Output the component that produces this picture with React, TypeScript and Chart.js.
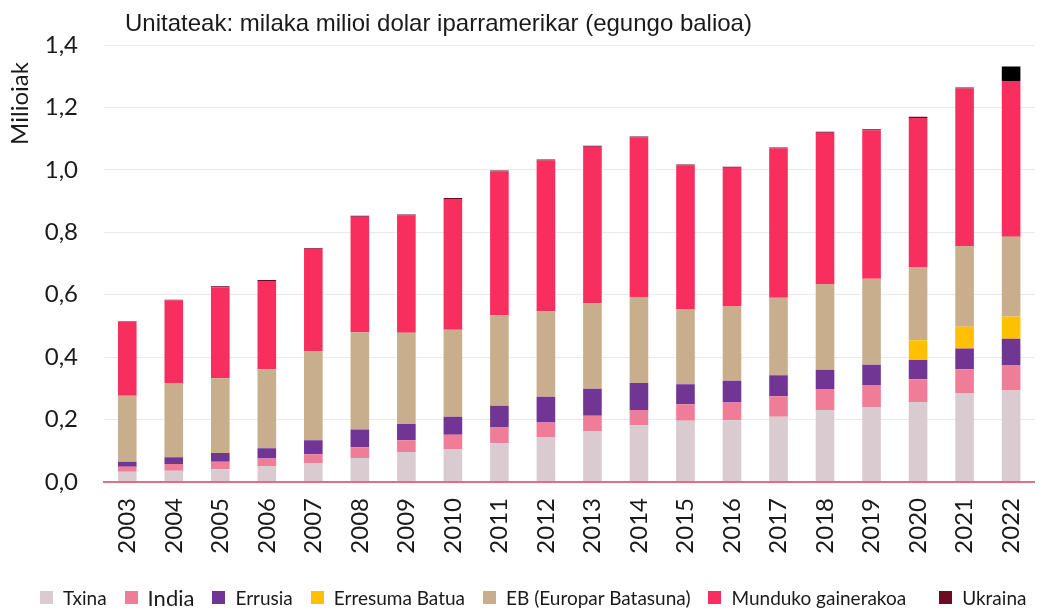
import React, { useEffect, useRef } from "react";
import { Chart, registerables } from "chart.js";

Chart.register(...registerables);

const years = ["2003","2004","2005","2006","2007","2008","2009","2010","2011","2012","2013","2014","2015","2016","2017","2018","2019","2020","2021","2022"];
const txina = [0.033,0.036,0.041,0.051,0.061,0.077,0.096,0.104,0.124,0.144,0.162,0.182,0.196,0.198,0.209,0.231,0.239,0.256,0.285,0.293];
const india = [0.016,0.022,0.024,0.024,0.028,0.034,0.038,0.047,0.051,0.047,0.050,0.049,0.053,0.057,0.066,0.067,0.072,0.073,0.076,0.080];
const errusia = [0.016,0.021,0.028,0.033,0.045,0.057,0.052,0.058,0.069,0.082,0.087,0.086,0.064,0.069,0.067,0.062,0.065,0.062,0.067,0.086];
const erresumaBatua = [0,0,0,0,0,0,0,0,0,0,0,0,0,0,0,0,0,0.063,0.069,0.071];
const eb = [0.211,0.238,0.239,0.253,0.285,0.312,0.292,0.279,0.290,0.274,0.274,0.276,0.240,0.238,0.248,0.274,0.275,0.233,0.259,0.256];
const mundukoGainerakoa = [0.237,0.265,0.292,0.283,0.328,0.370,0.376,0.419,0.461,0.483,0.501,0.511,0.461,0.445,0.479,0.485,0.476,0.479,0.505,0.499];
const ukraina = [0.002,0.002,0.003,0.003,0.003,0.003,0.003,0.003,0.003,0.003,0.003,0.003,0.003,0.003,0.003,0.003,0.003,0.004,0.003,0.046];

const seriesNames = ["Txina","India","Errusia","Erresuma Batua","EB (Europar Batasuna)","Munduko gainerakoa","Ukraina"];
const seriesColors = ["#dacbd0","#ef7d97","#713593","#ffc000","#c8ae8c","#f72e5e","#6d0a24"];
const yTicks = [0,0.2,0.4,0.6,0.8,1.0,1.2,1.4];

const titleText = "Unitateak: milaka milioi dolar iparramerikar (egungo balioa)";
const yTitle = "Milioiak";

const overlayText = {
  id: "overlayText",
  afterDraw(chart: any) {
    const ctx = chart.ctx;
    ctx.save();
    ctx.fillStyle = "#1a1a1a";
    ctx.font = "24px 'Liberation Sans', Arial, sans-serif";
    ctx.textAlign = "left";
    ctx.textBaseline = "alphabetic";
    ctx.fillText(titleText, chart.chartArea.left + 21, 31);
    ctx.translate(20.5, 103.5);
    ctx.rotate(-Math.PI / 2);
    ctx.font = "24px Lato, sans-serif";
    ctx.textAlign = "center";
    ctx.textBaseline = "middle";
    ctx.fillText(yTitle, 0, 0);
    ctx.restore();
  },
};

export default function App() {
  const ref = useRef<HTMLCanvasElement | null>(null);

  useEffect(() => {
    document.body.style.margin = "0";
    document.body.style.overflow = "hidden";
    const all = [txina, india, errusia, erresumaBatua, eb, mundukoGainerakoa, ukraina];
    const datasets = all.map((d, i) => ({
      label: seriesNames[i],
      data: d,
      backgroundColor:
        i === 6 ? d.map((_, j) => (j === d.length - 1 ? "#000000" : seriesColors[6])) : seriesColors[i],
      borderWidth: 0,
      barPercentage: 0.4,
      categoryPercentage: 1.0,
    }));
    const chart = new Chart(ref.current!, {
      type: "bar",
      data: { labels: years, datasets },
      plugins: [overlayText],
      options: {
        animation: false,
        responsive: false,
        maintainAspectRatio: false,
        layout: { padding: { left: 0, right: 4, top: 45, bottom: 0 } },
        plugins: {
          legend: { display: false },
          tooltip: { enabled: false },
          title: { display: false },
        },
        scales: {
          x: {
            stacked: true,
            grid: { display: false, drawTicks: false },
            border: { display: true, color: "#e46c87", width: 2, z: 1 },
            ticks: {
              color: "#1a1a1a",
              font: { family: "Lato, sans-serif", size: 24 },
              minRotation: 90,
              maxRotation: 90,
              padding: 16,
            },
            afterFit: (s: any) => {
              s.height = 129;
            },
          },
          y: {
            stacked: true,
            min: 0,
            max: 1.4,
            afterBuildTicks: (s: any) => {
              s.ticks = yTicks.map((v) => ({ value: v }));
            },
            grid: { color: "#e9e9e9", lineWidth: 1, drawTicks: false },
            border: { display: false },
            ticks: {
              color: "#1a1a1a",
              font: { family: "Lato, sans-serif", size: 24 },
              padding: 26,
              callback: (v: any) => Number(v).toFixed(1).replace(".", ","),
            },
            afterFit: (s: any) => {
              s.width = 104;
            },
          },
        },
      },
    });
    return () => chart.destroy();
  }, []);

  const legendItem = (name: string, color: string, i: number) => (
    <div key={name} style={{ display: "flex", alignItems: "center", gap: 10, marginLeft: i === 6 ? 15 : 0 }}>
      <span style={{ width: 13, height: 13, background: color, display: "inline-block" }} />
      <span style={{ fontSize: name === "India" ? 22 : 19, color: "#1a1a1a" }}>{name}</span>
    </div>
  );

  return (
    <div style={{ position: "fixed", left: 0, top: 0, width: "100vw", height: "100vh", overflow: "hidden", background: "#fff" }}>
      <canvas ref={ref} width={1056} height={611} style={{ position: "absolute", left: 0, top: 0, width: 1056, height: 611 }} />
      <div
        style={{
          position: "absolute",
          left: 40,
          top: 585,
          height: 24,
          display: "flex",
          alignItems: "center",
          gap: 18,
          fontFamily: "Lato, sans-serif",
          whiteSpace: "nowrap",
        }}
      >
        {seriesNames.map((n, i) => legendItem(n, seriesColors[i], i))}
      </div>
    </div>
  );
}
